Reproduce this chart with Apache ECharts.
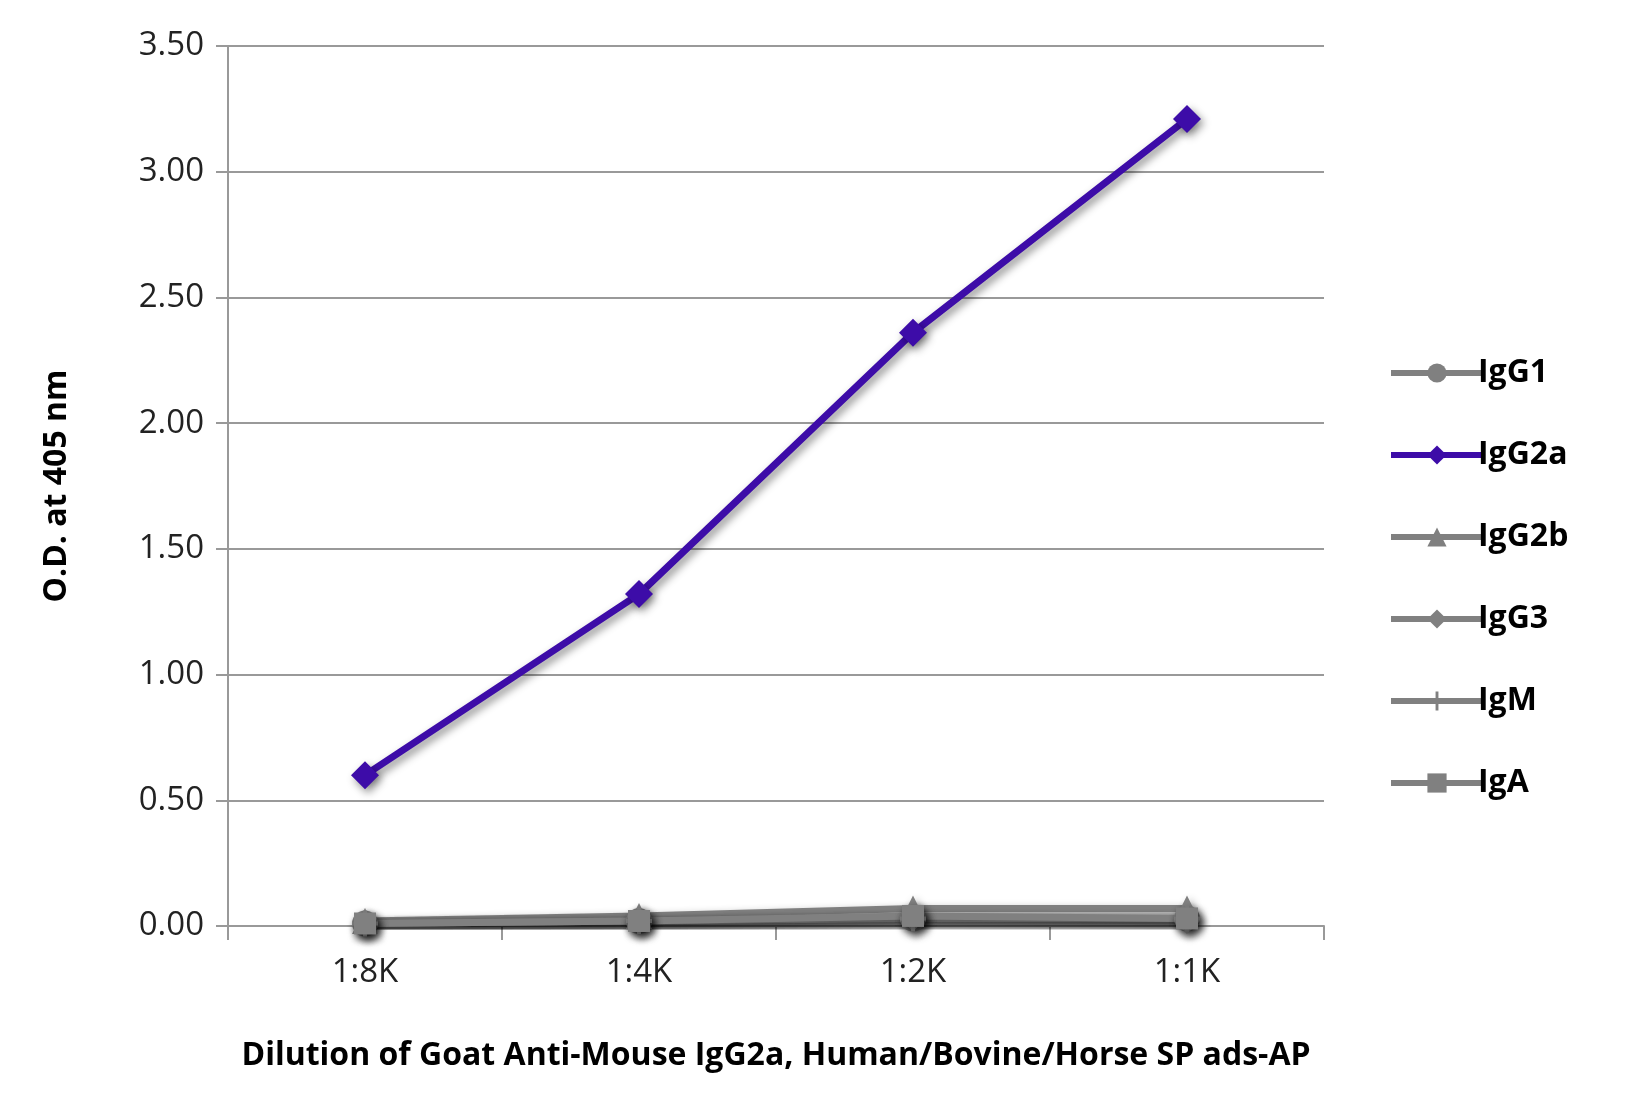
<!DOCTYPE html>
<html><head><meta charset="utf-8">
<script src="https://cdn.jsdelivr.net/npm/echarts@6/dist/echarts.min.js"></script>
<style>html,body{margin:0;background:#fff}#c{width:1627px;height:1115px}</style>
</head><body><div id="c"></div>
<script>
const categories = ['1:8K','1:4K','1:2K','1:1K'];
const yTicks = [0,0.5,1,1.5,2,2.5,3,3.5];
const IgG1 = [0.01,0.02,0.03,0.03];
const IgG2a = [0.60,1.32,2.36,3.21];
const IgG2b = [0.02,0.04,0.07,0.07];
const IgG3 = [0.01,0.02,0.03,0.02];
const IgM = [0.01,0.02,0.03,0.03];
const IgA = [0.01,0.02,0.04,0.03];
const seriesDefs = [
  ['IgG1', IgG1, 'circle', '#808080', 26],
  ['IgG2a', IgG2a, 'diamond', '#3d0ca8', 28],
  ['IgG2b', IgG2b, 'triangle', '#808080', 26],
  ['IgG3', IgG3, 'diamond', '#808080', 26],
  ['IgM', IgM, 'path://M-1,-0.15L1,-0.15L1,0.15L-1,0.15Z M-0.15,-1L0.15,-1L0.15,1L-0.15,1Z', '#808080', 26],
  ['IgA', IgA, 'rect', '#808080', 22]
];
const order = [0,2,3,4,5,1];
const chart = echarts.init(document.getElementById('c'));
const font = '"Open Sans", Lato, sans-serif';
chart.setOption({
  animation:false,
  grid:{left:228,right:303,top:46,bottom:189},
  legend:{
    orient:'vertical', left:1383, top:352, itemGap:50, itemWidth:92, itemHeight:24,
    data: seriesDefs.map(s=>s[0]),
    lineStyle:{width:6},
    textStyle:{fontFamily:font,fontWeight:'bold',fontSize:32,color:'#000',padding:[0,0,0,-10]}
  },
  xAxis:{type:'category',data:categories,boundaryGap:true,
    name:'Dilution of Goat Anti-Mouse IgG2a, Human/Bovine/Horse SP ads-AP',
    nameLocation:'middle',nameGap:114,
    nameTextStyle:{fontFamily:font,fontWeight:'bold',fontSize:32,color:'#000'},
    axisLine:{lineStyle:{color:'#999',width:2}},
    axisTick:{show:true,length:14,lineStyle:{color:'#999',width:2}},
    axisLabel:{fontFamily:font,fontSize:33,color:'#222',margin:30}},
  yAxis:{type:'value',min:0,max:3.5,interval:0.5,
    name:'O.D. at 405 nm',nameLocation:'middle',nameGap:155,
    nameTextStyle:{fontFamily:font,fontWeight:'bold',fontSize:32,color:'#000'},
    axisLine:{show:true,lineStyle:{color:'#999',width:2}},
    axisTick:{show:true,length:12,lineStyle:{color:'#999',width:2}},
    splitLine:{lineStyle:{color:'#999',width:2}},
    axisLabel:{fontFamily:font,fontSize:33,color:'#222',margin:24,formatter:v=>v.toFixed(2)}},
  series: order.map(i=>{const s=seriesDefs[i];return {
    name:s[0],type:'line',data:s[1],symbol:s[2],symbolSize:s[4],
    lineStyle:{color:s[3],width:7,shadowColor:'rgba(0,0,0,0.45)',shadowBlur:8,shadowOffsetX:3,shadowOffsetY:4},
    itemStyle:{color:s[3],shadowColor:'rgba(0,0,0,0.45)',shadowBlur:8,shadowOffsetX:3,shadowOffsetY:4},
    z: i===1?5:2
  };})
});
</script></body></html>
